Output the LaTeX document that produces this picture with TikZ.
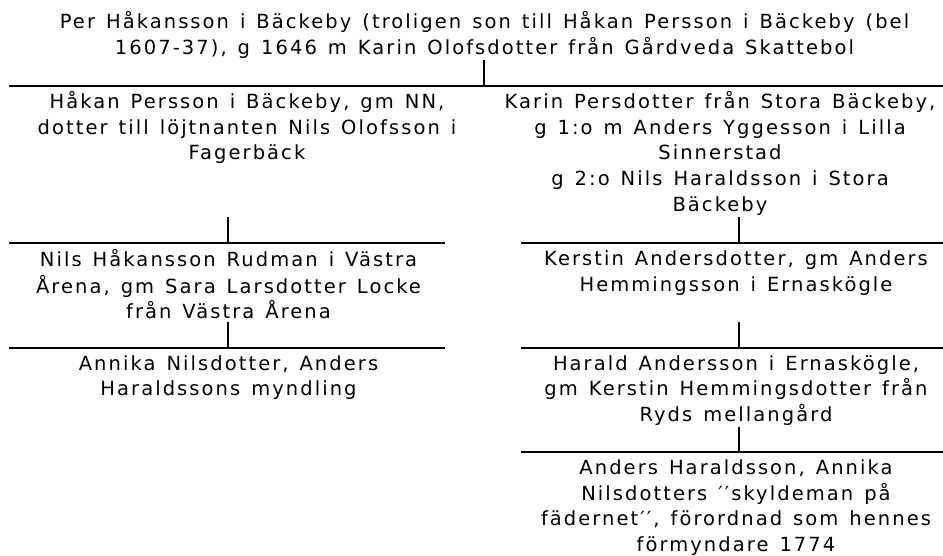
\documentclass[tikz,border=0pt]{standalone}
\usepackage{fontspec}
\newfontfamily\treefont[LetterSpace=10.6,WordSpace=1.33]{DejaVu Sans}
\begin{document}
\begin{tikzpicture}[x=1pt,y=-1pt,
  person/.style={anchor=north, inner sep=0pt, align=center, font=\treefont\fontsize{19.5}{25.7}\selectfont},
  bar/.style={line width=2pt}]
\useasboundingbox (0,0) rectangle (943,555);
\node[person] (pid0) at (484.5,10.3){\strut Per Håkansson i Bäckeby (troligen son till Håkan Persson i Bäckeby (bel\\1607-37), g 1646 m Karin Olofsdotter från Gårdveda Skattebol};
\coordinate (sid0) at (483.5,60);
\coordinate (lid0) at (9,85.5);
\coordinate (rid0) at (943,85.5);
\coordinate (jid0) at (483.5,85.5);
\draw[bar](lid0) -- (rid0);
\draw[bar](sid0) -- (jid0);
\node[person] (pid1) at (247,90.3){\strut Håkan Persson i Bäckeby, gm NN,\\dotter till löjtnanten Nils Olofsson i\\Fagerbäck};
\node[person] (pid2) at (720,90.3){\strut Karin Persdotter från Stora Bäckeby,\\g 1:o m Anders Yggesson i Lilla\\Sinnerstad\\g 2:o Nils Haraldsson i Stora\\Bäckeby};
\coordinate (sid1) at (227.7,216.7);
\coordinate (sid2) at (738.7,216.7);

\node[person] (pid3) at (228.5,248){\strut Nils Håkansson Rudman i Västra\\Årena, gm Sara Larsdotter Locke\\från Västra Årena};
\coordinate (lid3) at (9,242.7);
\coordinate (rid3) at (445,242.7);
\coordinate (jid3) at (227.7,242.7);
\draw[bar](lid3) -- (rid3);
\draw[bar](sid1) -- (jid3);
\node[person] (pid4) at (736,247.5){\strut Kerstin Andersdotter, gm Anders\\Hemmingsson i Ernaskögle};
\coordinate (lid4) at (521,242.7);
\coordinate (rid4) at (943,242.7);
\coordinate (jid4) at (738.7,242.7);
\draw[bar](lid4) -- (rid4);
\draw[bar](sid2) -- (jid4);
\coordinate (sid3) at (227.7,321.7);
\coordinate (sid4) at (738.7,321.7);

\node[person] (pid5) at (228.5,352){\strut Annika Nilsdotter, Anders\\Haraldssons myndling};
\coordinate (lid5) at (9,347.7);
\coordinate (rid5) at (445,347.7);
\coordinate (jid5) at (227.7,347.7);
\draw[bar](lid5) -- (rid5);
\draw[bar](sid3) -- (jid5);
\node[person] (pid6) at (736,352){\strut Harald Andersson i Ernaskögle,\\gm Kerstin Hemmingsdotter från\\Ryds mellangård};
\coordinate (lid6) at (521,347.7);
\coordinate (rid6) at (943,347.7);
\coordinate (jid6) at (738.7,347.7);
\draw[bar](lid6) -- (rid6);
\draw[bar](sid4) -- (jid6);
\coordinate (sid6) at (739,426.5);

\node[person] (pid7) at (736,456.3){\strut Anders Haraldsson, Annika\\Nilsdotters ′′skyldeman på\\fädernet′′, förordnad som hennes\\förmyndare 1774};
\coordinate (lid7) at (521,452);
\coordinate (rid7) at (943,452);
\coordinate (jid7) at (739,452);
\draw[bar](lid7) -- (rid7);
\draw[bar](sid6) -- (jid7);

\end{tikzpicture}
\end{document}
